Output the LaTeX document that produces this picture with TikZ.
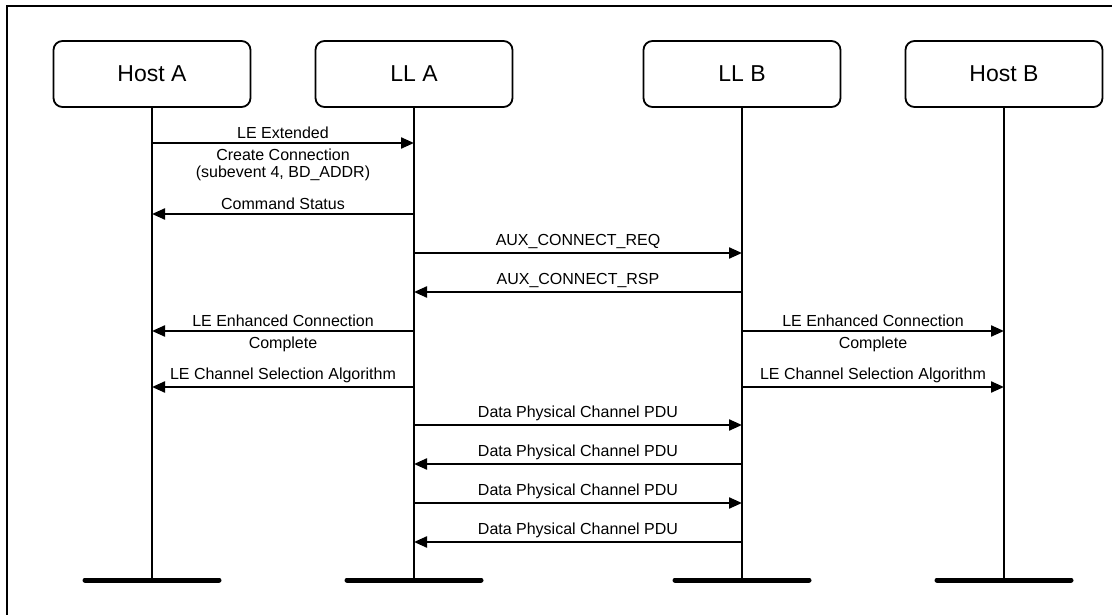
\documentclass[tikz,border=0pt]{standalone}
\usepackage{fontspec}
\setmainfont{Liberation Sans}
\usetikzlibrary{arrows.meta}

\tikzset{
  entity/.style={draw, line width=1.8pt, rounded corners=9pt, minimum width=197pt,
    minimum height=66pt, font=\fontsize{23}{27}\selectfont},
  lifeline/.style={line width=1.8pt},
  foot/.style={line width=5pt, line cap=round},
  msg/.style={line width=2.2pt, -{Triangle[length=13pt,width=11pt]}},
  lbl/.style={font=\fontsize{16}{17.5}\selectfont, inner sep=1.5pt, align=center},
  lblup/.style={lbl, above, yshift=1.5pt},
  lbldown/.style={lbl, below, yshift=-3pt}
}

\begin{document}
\begin{tikzpicture}[x=1pt, y=-1pt]
  \useasboundingbox (0,0) rectangle (1112,615);
  \draw[line width=2.2pt] (7,615) -- (7,6) -- (1112,6);

  % participants
  \node[entity] (hosta) at (152,74) {Host A};
  \node[entity] (lla)   at (414,74) {LL A};
  \node[entity] (llb)   at (742,74) {LL B};
  \node[entity] (hostb) at (1004,74) {Host B};

  % lifelines and feet
  \foreach \p in {hosta, lla, llb, hostb} {
    \coordinate (\p-end) at (\p |- 0,580);
    \draw[lifeline] (\p.south) -- (\p-end);
    \draw[foot] ([xshift=-67pt]\p-end) -- ([xshift=67pt]\p-end);
  }

  % messages
  \draw[msg] (hosta |- 0,143) -- node[lblup] {LE Extended}
        node[lbldown] {Create Connection\\(subevent 4, BD\_ADDR)} (lla |- 0,143);
  \draw[msg] (lla |- 0,214) -- node[lblup] {Command Status} (hosta |- 0,214);
  \draw[msg] (lla |- 0,253) -- node[lblup] {AUX\_CONNECT\_REQ} (llb |- 0,253);
  \draw[msg] (llb |- 0,292) -- node[lblup] {AUX\_CONNECT\_RSP} (lla |- 0,292);

  \draw[msg] (lla |- 0,331) -- node[lblup] {LE Enhanced Connection}
        node[lbldown] {Complete} (hosta |- 0,331);
  \draw[msg] (llb |- 0,331) -- node[lblup] {LE Enhanced Connection}
        node[lbldown] {Complete} (hostb |- 0,331);
  \draw[msg] (lla |- 0,387) -- node[lblup] {LE Channel Selection Algorithm} (hosta |- 0,387);
  \draw[msg] (llb |- 0,387) -- node[lblup] {LE Channel Selection Algorithm} (hostb |- 0,387);

  \draw[msg] (lla |- 0,425) -- node[lblup] {Data Physical Channel PDU} (llb |- 0,425);
  \draw[msg] (llb |- 0,464) -- node[lblup] {Data Physical Channel PDU} (lla |- 0,464);
  \draw[msg] (lla |- 0,503) -- node[lblup] {Data Physical Channel PDU} (llb |- 0,503);
  \draw[msg] (llb |- 0,542) -- node[lblup] {Data Physical Channel PDU} (lla |- 0,542);
\end{tikzpicture}
\end{document}
